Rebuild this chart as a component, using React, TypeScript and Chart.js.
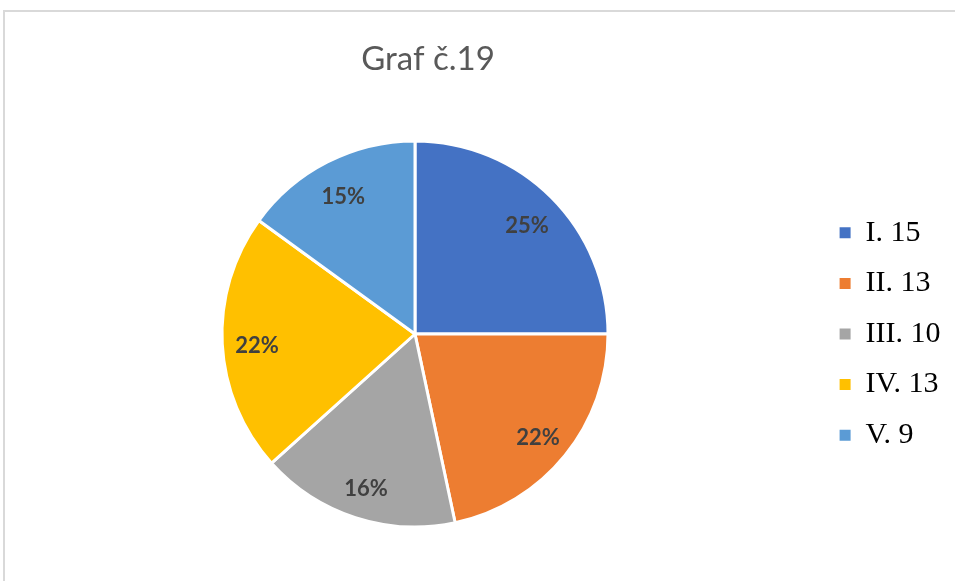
import { useEffect, useRef } from 'react';
import { Chart, registerables } from 'chart.js';

Chart.register(...registerables);

const chartTitle = 'Graf č.19';
const categories = ['I. 15', 'II. 13', 'III. 10', 'IV. 13', 'V. 9'];
const values = [15, 13, 10, 13, 9];
const percentLabels = ['25%', '22%', '16%', '22%', '15%'];
const colors = ['#4472C4', '#ED7D31', '#A5A5A5', '#FFC000', '#5B9BD5'];

export default function App() {
  const ref = useRef<HTMLCanvasElement>(null);

  useEffect(() => {
    document.body.style.margin = '0';
    if (!ref.current) return;

    const sliceLabels = {
      id: 'sliceLabels',
      afterDatasetsDraw(chart: any) {
        const ctx = chart.ctx;
        const meta = chart.getDatasetMeta(0);
        ctx.save();
        ctx.font = 'bold 22px Lato';
        ctx.fillStyle = '#404040';
        ctx.textAlign = 'center';
        ctx.textBaseline = 'middle';
        meta.data.forEach((arc: any, i: number) => {
          const p = arc.getProps(['x', 'y', 'startAngle', 'endAngle', 'outerRadius'], true);
          const mid = (p.startAngle + p.endAngle) / 2;
          const r = p.outerRadius * 0.82;
          ctx.fillText(percentLabels[i], p.x + Math.cos(mid) * r, p.y + Math.sin(mid) * r + 4);
        });
        ctx.restore();
      },
    };

    const defaultGen = (Chart as any).overrides.pie.plugins.legend.labels.generateLabels;

    const chart = new Chart(ref.current, {
      type: 'pie',
      data: {
        labels: categories,
        datasets: [
          {
            data: values,
            backgroundColor: colors,
            borderColor: '#ffffff',
            borderWidth: 3,
            radius: 193,
          } as any,
        ],
      },
      options: {
        responsive: false,
        animation: false,
        layout: { padding: { left: 0, right: 8, top: 0, bottom: 22.6 } },
        plugins: {
          tooltip: { enabled: false },
          title: {
            display: true,
            text: chartTitle,
            color: '#595959',
            font: { family: 'Lato', size: 33, weight: 'normal' },
            padding: { top: 40, bottom: 30 },
          },
          subtitle: {
            display: true,
            position: 'left',
            fullSize: false,
            text: ' ',
            font: { size: 10 },
            padding: { top: 45, bottom: 45 },
          },
          legend: {
            position: 'right',
            align: 'center',
            fullSize: false,
            maxWidth: 128,
            labels: {
              boxWidth: 11,
              boxHeight: 11,
              padding: 20.6,
              color: '#000000',
              font: { family: "'Liberation Serif', 'Times New Roman', serif", size: 30 },
              generateLabels: (c: any) =>
                defaultGen(c).map((it: any) => ({ ...it, lineWidth: 0, strokeStyle: it.fillStyle })),
            },
          },
        },
      } as any,
      plugins: [sliceLabels],
    });

    return () => chart.destroy();
  }, []);

  return (
    <div
      style={{
        position: 'fixed',
        left: 0,
        top: 0,
        width: 955,
        height: 581,
        overflow: 'hidden',
        background: '#ffffff',
      }}
    >
      <div
        style={{
          position: 'absolute',
          left: 3,
          top: 10,
          width: 1000,
          height: 1000,
          borderTop: '2px solid #d9d9d9',
          borderLeft: '2px solid #d9d9d9',
        }}
      />
      <canvas ref={ref} width={1046} height={581} style={{ position: 'absolute', left: -91, top: 0 }} />
    </div>
  );
}
